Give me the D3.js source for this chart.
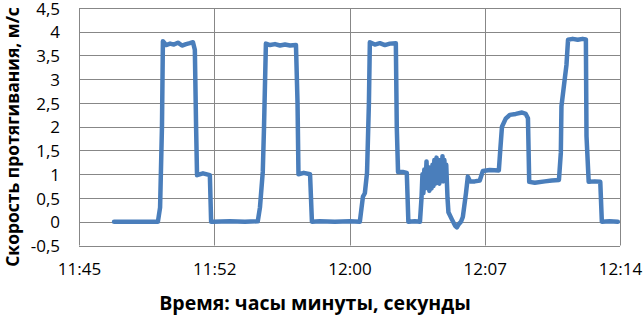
<!DOCTYPE html>
<html>
<head>
<meta charset="utf-8">
<script src="https://cdn.jsdelivr.net/npm/d3@7"></script>
<style>
    body { margin: 0; background: #fff; }
    text { font-family: "Open Sans", sans-serif; fill: #000; }
</style>
</head>
<body>
<div id="chart"></div>
<script>
// time of each sample (h:mm:ss)
var times = [
    "11:47:28", "11:49:48", "11:49:55", "11:50:01", "11:50:04", "11:50:14", "11:50:27", "11:50:39",
    "11:50:52", "11:51:05", "11:51:18", "11:51:30", "11:51:40", "11:51:46", "11:51:50", "11:51:53",
    "11:52:12", "11:52:34", "11:52:38", "11:52:44", "11:53:38", "11:54:26", "11:55:07", "11:55:14",
    "11:55:23", "11:55:27", "11:55:33", "11:55:46", "11:56:02", "11:56:18", "11:56:34", "11:56:50",
    "11:57:09", "11:57:14", "11:57:17", "11:57:34", "11:57:54", "11:58:00", "11:58:25", "11:59:13",
    "12:00:01", "12:00:33", "12:00:43", "12:00:49", "12:00:56", "12:01:02", "12:01:05", "12:01:21",
    "12:01:37", "12:01:53", "12:02:09", "12:02:28", "12:02:31", "12:02:35", "12:02:50", "12:03:03",
    "12:03:08", "12:03:29", "12:03:45", "12:03:50", "12:03:53", "12:03:56", "12:03:59", "12:04:02",
    "12:04:06", "12:04:09", "12:04:12", "12:04:15", "12:04:18", "12:04:22", "12:04:25", "12:04:28",
    "12:04:31", "12:04:34", "12:04:38", "12:04:41", "12:04:44", "12:04:47", "12:04:50", "12:04:54",
    "12:04:57", "12:05:00", "12:05:03", "12:05:06", "12:05:09", "12:05:13", "12:05:16", "12:05:27",
    "12:05:37", "12:05:43", "12:05:49", "12:05:56", "12:06:02", "12:06:12", "12:06:18", "12:06:25",
    "12:06:40", "12:06:56", "12:07:06", "12:07:28", "12:07:57", "12:08:02", "12:08:07", "12:08:19",
    "12:08:32", "12:08:51", "12:09:11", "12:09:23", "12:09:30", "12:09:34", "12:09:52", "12:10:24",
    "12:10:46", "12:11:09", "12:11:15", "12:11:17", "12:11:28", "12:11:33", "12:11:38", "12:11:53",
    "12:12:09", "12:12:25", "12:12:35", "12:12:37", "12:12:44", "12:13:04", "12:13:21", "12:13:26",
    "12:13:51", "12:14:17"
];

// speed, m/s
var speed = [
    0, 0, 0.3, 2.0, 3.8, 3.72, 3.75, 3.73,
    3.77, 3.71, 3.74, 3.76, 3.78, 3.62, 2.0, 0.98,
    1.02, 0.98, 0, 0, 0.01, 0, 0.01, 0.3,
    1.05, 2.0, 3.75, 3.72, 3.74, 3.71, 3.73, 3.71,
    3.72, 2.5, 1.0, 1.03, 1.0, 0, 0.01, 0,
    0.01, 0, 0.53, 0.6, 1.03, 2.5, 3.78, 3.73,
    3.76, 3.72, 3.75, 3.76, 2.0, 1.05, 1.05, 1.03,
    0, 0.01, 0, 0.5, 1.0, 0.6, 1.1, 0.7,
    1.27, 0.75, 1.15, 0.65, 1.05, 0.7, 1.2, 0.75,
    1.3, 0.8, 1.35, 0.85, 1.25, 0.8, 1.3, 0.9,
    1.38, 0.85, 1.3, 0.9, 1.2, 0.5, 0.2, 0.05,
    -0.08, -0.12, -0.05, 0, 0.1, 0.6, 0.95, 0.85,
    0.85, 0.87, 1.07, 1.09, 1.08, 1.55, 2.0, 2.17,
    2.25, 2.27, 2.3, 2.27, 2.18, 0.84, 0.82, 0.85,
    0.87, 0.88, 1.45, 2.43, 3.03, 3.3, 3.83, 3.85,
    3.83, 3.85, 3.84, 1.8, 0.84, 0.85, 0.84, 0,
    0.01, 0
];

// axis ticks (excel axis: 0.49 .. 0.51 day, step 0.005)
var xTicks = ["11:45:36", "11:52:48", "12:00:00", "12:07:12", "12:14:24"];
var yTicks = [-0.5, 0, 0.5, 1, 1.5, 2, 2.5, 3, 3.5, 4, 4.5];

var width = 643,
    height = 315,
    margin = {top: 8, right: 23, bottom: 69.5, left: 79};

var parseTime = d3.timeParse("%H:%M:%S");
var ru = d3.formatLocale({decimal: ",", thousands: " ", grouping: [3], currency: ["", " руб."], minus: "-"});
var yFormat = ru.format(".1~f");
var xFormat = d3.timeFormat("%H:%M");

var data = times.map(function(t, i) {
    return {t: parseTime(t), v: speed[i]};
});
var tickDates = xTicks.map(parseTime);

var x = d3.scaleTime()
    .domain([tickDates[0], tickDates[tickDates.length - 1]])
    .range([margin.left, width - margin.right]);

var y = d3.scaleLinear()
    .domain([-0.5, 4.5])
    .range([height - margin.bottom, margin.top]);

var svg = d3.select("#chart")
    .append("svg")
    .attr("width", width)
    .attr("height", height);

// grid
svg.append("g")
    .attr("class", "grid")
    .selectAll("line.h")
    .data(yTicks)
    .enter().append("line")
    .attr("x1", margin.left)
    .attr("x2", width - margin.right)
    .attr("y1", function(d) { return Math.round(y(d)) + 0.5; })
    .attr("y2", function(d) { return Math.round(y(d)) + 0.5; })
    .attr("stroke", "#878787")
    .attr("stroke-width", 1);

svg.append("g")
    .selectAll("line")
    .data(tickDates)
    .enter().append("line")
    .attr("x1", function(d) { return Math.round(x(d)) + 0.5; })
    .attr("x2", function(d) { return Math.round(x(d)) + 0.5; })
    .attr("y1", margin.top)
    .attr("y2", height - margin.bottom)
    .attr("stroke", "#878787")
    .attr("stroke-width", 1);

// axes (labels only)
var yAxis = svg.append("g")
    .attr("transform", "translate(" + (margin.left - 19) + ",0)")
    .call(d3.axisLeft(y).tickValues(yTicks).tickFormat(yFormat).tickSize(0).tickPadding(0));
yAxis.select(".domain").remove();
yAxis.selectAll("text")
    .attr("dy", "0.36em")
    .style("font-size", "17px")
    .style("font-family", "'Open Sans', sans-serif");

var xAxis = svg.append("g")
    .attr("transform", "translate(0," + (height - margin.bottom) + ")")
    .call(d3.axisBottom(x).tickValues(tickDates).tickFormat(xFormat).tickSize(0).tickPadding(0));
xAxis.select(".domain").remove();
xAxis.selectAll("text")
    .attr("y", 29)
    .attr("dy", 0)
    .style("font-size", "17px")
    .style("font-family", "'Open Sans', sans-serif");

// line
var line = d3.line()
    .x(function(d) { return x(d.t); })
    .y(function(d) { return y(d.v); });

svg.append("path")
    .datum(data)
    .attr("d", line)
    .attr("fill", "none")
    .attr("stroke", "#4a7ebb")
    .attr("stroke-width", 4.5)
    .attr("stroke-linejoin", "round")
    .attr("stroke-linecap", "round");

// titles
svg.append("text")
    .attr("x", 315)
    .attr("y", 310)
    .attr("text-anchor", "middle")
    .style("font-size", "19.5px")
    .style("font-weight", "bold")
    .text("Время: часы минуты, секунды");

svg.append("text")
    .attr("transform", "translate(19,137) rotate(-90)")
    .attr("text-anchor", "middle")
    .style("font-size", "17.5px")
    .style("font-weight", "bold")
    .text("Скорость протягивания, м/с");
</script>
</body>
</html>
